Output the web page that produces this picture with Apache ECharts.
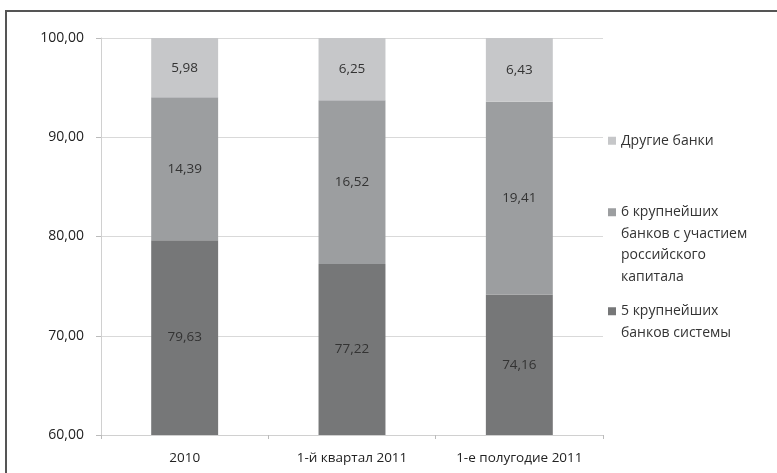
<!DOCTYPE html>
<html>
<head>
<meta charset="utf-8">
<script src="https://cdn.jsdelivr.net/npm/echarts@6/dist/echarts.min.js"></script>
<style>html,body{margin:0;padding:0;background:#fff;}#c{width:777px;height:473px;}</style>
</head>
<body>
<div id="c"></div>
<script>
var categories = ['2010', '1-й квартал 2011', '1-е полугодие 2011'];
var top5 = [79.63, 77.22, 74.16];
var next6 = [14.39, 16.52, 19.41];
var others = [5.98, 6.25, 6.43];
var yTicks = [60, 70, 80, 90, 100];

var nameOthers = 'Другие банки';
var nameNext6 = '6 крупнейших банков с участием российского капитала';
var nameTop5 = '5 крупнейших банков системы';

var FONT = 'Open Sans';
function comma(v) { return Number(v).toFixed(2).replace('.', ','); }

var chart = echarts.init(document.getElementById('c'), null, {renderer: 'canvas'});
var labelCfg = {
  show: true, position: 'inside', color: '#333', fontFamily: FONT, fontSize: 13.5,
  formatter: function (p) { return comma(p.value); }
};
var legendText = {color: '#333', fontFamily: FONT, fontSize: 14, lineHeight: 21.5};
chart.setOption({
  animation: false,
  backgroundColor: '#fff',
  graphic: [
    {type: 'line', shape: {x1: 6, y1: 11, x2: 777, y2: 11}, style: {stroke: '#555', lineWidth: 2}},
    {type: 'line', shape: {x1: 6, y1: 10, x2: 6, y2: 473}, style: {stroke: '#555', lineWidth: 2}}
  ],
  grid: {left: 101, right: 174, top: 38, bottom: 38},
  legend: [
    {data: [nameOthers], left: 603, top: 125, itemWidth: 8, itemHeight: 8, icon: 'rect', textStyle: legendText,
      formatter: function () { return 'Другие банки'; }},
    {data: [nameNext6], left: 603, top: 132, itemWidth: 8, itemHeight: 8, icon: 'rect', textStyle: legendText,
      formatter: function () { return '\n\n\n6 крупнейших\nбанков с участием\nроссийского\nкапитала'; }},
    {data: [nameTop5], left: 603, top: 274, itemWidth: 8, itemHeight: 8, icon: 'rect', textStyle: legendText,
      formatter: function () { return '\n5 крупнейших\nбанков системы'; }}
  ],
  xAxis: {
    type: 'category', data: categories,
    axisLine: {lineStyle: {color: '#d0d0d0'}},
    axisTick: {show: true, alignWithLabel: false, interval: 0, length: 4, lineStyle: {color: '#bbb'}},
    axisLabel: {color: '#222', fontFamily: FONT, fontSize: 13.5, margin: 16, interval: 0, hideOverlap: false}
  },
  yAxis: {
    type: 'value', min: 60, max: 100, interval: 10, startValue: 60,
    axisLine: {show: true, lineStyle: {color: '#d0d0d0'}},
    axisTick: {show: true, length: 5, lineStyle: {color: '#bbb'}},
    splitLine: {lineStyle: {color: '#d9d9d9'}},
    axisLabel: {color: '#222', fontFamily: FONT, fontSize: 14, margin: 17,
      formatter: function (v) { return comma(v); }}
  },
  series: [
    {name: nameTop5, type: 'bar', stack: 's', data: top5, barWidth: '40%', itemStyle: {color: '#767778'}, label: labelCfg},
    {name: nameNext6, type: 'bar', stack: 's', data: next6, itemStyle: {color: '#9c9ea0'}, label: labelCfg},
    {name: nameOthers, type: 'bar', stack: 's', data: others, itemStyle: {color: '#c6c7c9'}, label: labelCfg}
  ]
});
</script>
</body>
</html>
